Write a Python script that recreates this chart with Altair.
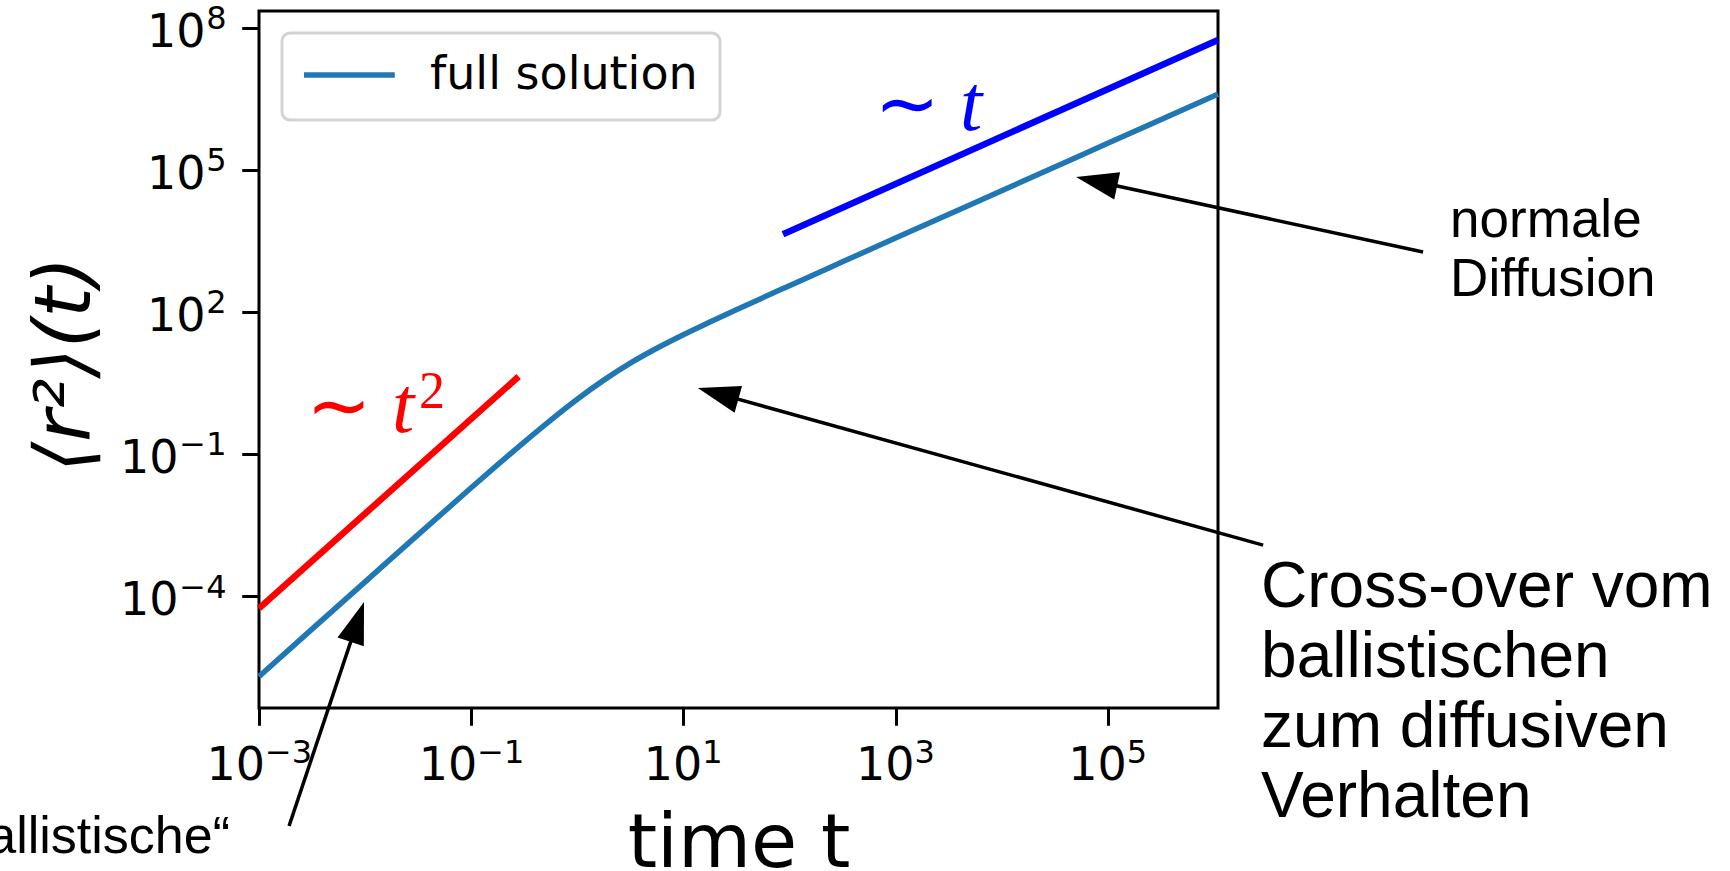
import math
import altair as alt
import pandas as pd

# ---------------- data ----------------
t_full = [1e-3, 3.16e-3, 1e-2, 3.16e-2, 0.1, 0.178, 0.316, 0.562, 1.0, 1.78, 3.16,
          5.62, 10, 17.8, 31.6, 100, 316, 1000, 1e4, 1e5, 1e6, 1.096e6]
msd_full = [2.0e-6, 2.0e-5, 1.99e-4, 1.98e-3, 0.0193, 0.0593, 0.178, 0.519, 1.43, 3.61, 8.24,
            17.0, 32.8, 60.8, 110.6, 357, 1135, 3597, 3.6e4, 3.6e5, 3.6e6, 3.94e6]

t_ball = [1e-3, 0.28]
msd_ball = [5.5e-5, 4.3]
t_diff = [87, 1.096e6]
msd_diff = [4350, 5.48e7]

x_ticks = [1e-3, 1e-1, 1e1, 1e3, 1e5]
y_ticks = [1e-4, 1e-1, 1e2, 1e5, 1e8]
x_domain = [1e-3, 1.096e6]
y_domain = [4.33e-7, 2.24e8]

series_name = "full solution"
x_title = "time t"
y_title = "⟨r²⟩(t)"

# annotations (anchors in data coordinates)
ann_texts = ["normale\nDiffusion", "Cross-over vom\nballistischen\nzum diffusiven\nVerhalten", "„ballistische“"]
ann_t = [1.69e8, 2.79e6, 5.33e-4]
ann_v = [3793, 5.86e-5, 3.76e-10]

arrow_tip_t = [5.04e4, 13.7, 9.77e-3]
arrow_tip_v = [7.0e4, 2.46, 7.5e-5]
arrow_tail_t = [9.4e7, 2.92e6, 1.92e-3]
arrow_tail_v = [1.83e3, 1.19e-3, 1.4e-9]

# slope labels: "~ t^2" (red) and "~ t" (blue)
sim_t = [5.68e-3, 1285]
sim_v = [0.290, 6.89e5]
var_t = [0.01795, 4055]
var_v = [0.290, 6.89e5]
exp_t = [0.0322]
exp_v = [0.931]
exp_text = ["2"]

# ---------------- geometry ----------------
W, H = 959, 697
PAD = {"left": 259, "top": 11, "right": 512, "bottom": 163}
lx0, lx1 = math.log10(x_domain[0]), math.log10(x_domain[1])
ly0, ly1 = math.log10(y_domain[0]), math.log10(y_domain[1])
XPD = W / (lx1 - lx0)
YPD = H / (ly1 - ly0)

def px(t):
    return (math.log10(t) - lx0) * XPD

def py(v):
    return (ly1 - math.log10(v)) * YPD

def inv_t(x):
    return 10 ** (lx0 + x / XPD)

def inv_v(y):
    return 10 ** (ly1 - y / YPD)

shaft_rows, head_rows = [], []
for i in range(3):
    x0, y0 = px(arrow_tail_t[i]), py(arrow_tail_v[i])
    x1, y1 = px(arrow_tip_t[i]), py(arrow_tip_v[i])
    dx, dy = x1 - x0, y1 - y0
    L = math.hypot(dx, dy)
    ux, uy = dx / L, dy / L
    ex, ey = x1 - 22 * ux, y1 - 22 * uy
    shaft_rows.append({"id": i, "o": 0, "t": arrow_tail_t[i], "v": arrow_tail_v[i]})
    shaft_rows.append({"id": i, "o": 1, "t": inv_t(ex), "v": inv_v(ey)})
    ang = math.degrees(math.atan2(dy, dx)) % 360
    head_rows.append({"t": arrow_tip_t[i], "v": arrow_tip_v[i], "ang": ang})

df_full = pd.DataFrame({"t": t_full, "v": msd_full, "series": series_name})
df_ball = pd.DataFrame({"t": t_ball, "v": msd_ball})
df_diff = pd.DataFrame({"t": t_diff, "v": msd_diff})
df_shaft = pd.DataFrame(shaft_rows)
df_head = pd.DataFrame(head_rows)

xs = alt.Scale(type="log", domain=x_domain, nice=False)
ys = alt.Scale(type="log", domain=y_domain, nice=False)

tick_common = dict(tickSize=17, tickWidth=3, tickColor="black", domain=False, grid=False,
                   labelColor="black", labelFont="DejaVu Sans", labelFlush=False,
                   labelOverlap=False, labelBaseline="alphabetic")

exp_expr = "(datum.value < 1 ? '\u2212' : '') + format(abs(round(log(datum.value) / LN10)), 'd')"

x_main = alt.Axis(values=x_ticks, orient="bottom", labelExpr="'10'", labelAlign="right",
                  labelOffset={"condition": {"test": "datum.value < 1", "value": 5.5}, "value": 18.5},
                  labelPadding=54, labelFontSize=46,
                  title=x_title, titleFont="DejaVu Sans", titleFontSize=75, titleFontWeight="normal",
                  titleColor="black", titleX=W / 2, titleY=158, titleAlign="center",
                  titleBaseline="alphabetic", **tick_common)
x_exp = alt.Axis(values=x_ticks, orient="bottom", labelExpr=exp_expr, labelAlign="left",
                 labelOffset={"condition": {"test": "datum.value < 1", "value": 5.5}, "value": 18.5},
                 labelPadding=37, labelFontSize=32, title=None, **tick_common)
y_main = alt.Axis(values=y_ticks, orient="left", labelExpr="'10'", labelAlign="right",
                  labelOffset=18.7,
                  labelPadding={"condition": {"test": "datum.value < 1", "value": 64}, "value": 37},
                  labelFontSize=46,
                  title=y_title, titleFont="DejaVu Sans", titleFontSize=78, titleFontWeight="normal",
                  titleFontStyle="italic", titleColor="black", titleAngle=270,
                  titleX=-193, titleY=353, titleAlign="center", titleBaseline="middle",
                  **tick_common)
y_exp = alt.Axis(values=y_ticks, orient="left", labelExpr=exp_expr, labelAlign="right",
                 labelOffset=1, labelPadding=16, labelFontSize=32, title=None, **tick_common)

full = alt.Chart(df_full).mark_line(strokeWidth=5.5, interpolate="monotone").encode(
    x=alt.X("t:Q", scale=xs, axis=x_main),
    y=alt.Y("v:Q", scale=ys, axis=y_main),
    color=alt.Color("series:N", scale=alt.Scale(domain=[series_name], range=["#1f77b4"]),
                    legend=alt.Legend(title=None, orient="none", legendX=23, legendY=22)),
)

ball = alt.Chart(df_ball).mark_line(strokeWidth=6.5, color="#ff0000").encode(
    x=alt.X("t:Q", scale=xs, axis=x_exp),
    y=alt.Y("v:Q", scale=ys, axis=y_exp),
)

diff = alt.Chart(df_diff).mark_line(strokeWidth=6.5, color="#0000ff").encode(
    x=alt.X("t:Q", scale=xs, axis=None),
    y=alt.Y("v:Q", scale=ys, axis=None),
)

def XN():
    return alt.X("t:Q", scale=xs, axis=None)

def YN():
    return alt.Y("v:Q", scale=ys, axis=None)

shafts = alt.Chart(df_shaft).mark_line(strokeWidth=3.5, color="black").encode(
    x=XN(), y=YN(), detail="id:N", order="o:Q")

heads = alt.Chart(df_head).mark_point(
    shape="M0,0L-1,-0.33L-1,0.33Z", filled=True, color="black", size=7056,
    opacity=1, strokeWidth=0).encode(
    x=XN(), y=YN(), angle=alt.Angle("ang:Q", scale=None))

df_ann0 = pd.DataFrame({"t": [ann_t[0]], "v": [ann_v[0]], "txt": [ann_texts[0]]})
df_ann1 = pd.DataFrame({"t": [ann_t[1]], "v": [ann_v[1]], "txt": [ann_texts[1]]})
df_ann2 = pd.DataFrame({"t": [ann_t[2]], "v": [ann_v[2]], "txt": [ann_texts[2]]})

ann0 = alt.Chart(df_ann0).mark_text(align="left", baseline="alphabetic", font="Liberation Sans",
                                    fontSize=53, lineHeight=59, lineBreak="\n", color="black").encode(
    x=XN(), y=YN(), text="txt:N")
ann1 = alt.Chart(df_ann1).mark_text(align="left", baseline="alphabetic", font="Liberation Sans",
                                    fontSize=64, lineHeight=70, lineBreak="\n", color="black").encode(
    x=XN(), y=YN(), text="txt:N")
ann2 = alt.Chart(df_ann2).mark_text(align="right", baseline="alphabetic", font="Liberation Sans",
                                    fontSize=52, color="black").encode(
    x=XN(), y=YN(), text="txt:N")

guide_colors = ["#ff0000", "#0000ff"]
math_layers = []
for i in range(2):
    d_sim = pd.DataFrame({"t": [sim_t[i]], "v": [sim_v[i]], "txt": ["\u223c"]})
    d_var = pd.DataFrame({"t": [var_t[i]], "v": [var_v[i]], "txt": ["t"]})
    math_layers.append(alt.Chart(d_sim).mark_text(
        align="center", baseline="alphabetic", font="DejaVu Sans", fontSize=78,
        color=guide_colors[i]).encode(x=XN(), y=YN(), text="txt:N"))
    math_layers.append(alt.Chart(d_var).mark_text(
        align="left", baseline="alphabetic", font="Liberation Serif", fontStyle="italic",
        fontSize=80, color=guide_colors[i]).encode(x=XN(), y=YN(), text="txt:N"))
d_exp = pd.DataFrame({"t": exp_t, "v": exp_v, "txt": exp_text})
math_layers.append(alt.Chart(d_exp).mark_text(
    align="left", baseline="alphabetic", font="Liberation Serif", fontSize=52,
    color=guide_colors[0]).encode(x=XN(), y=YN(), text="txt:N"))

chart = alt.layer(full, ball, diff, shafts, heads, ann0, ann1, ann2, *math_layers).resolve_scale(
    x="shared", y="shared"
).resolve_axis(
    x="independent", y="independent"
).properties(
    width=W, height=H, padding=PAD, autosize=alt.AutoSizeParams(type="none"),
    background="white",
).configure_view(
    stroke="black", strokeWidth=3
).configure_legend(
    padding=22, clipHeight=40, symbolType="stroke", symbolSize=12000, symbolStrokeWidth=5.5,
    symbolOffset=-22, labelOffset=32, labelFont="DejaVu Sans", labelFontSize=46,
    labelColor="black", strokeColor="#d3d3d3", strokeWidth=3, cornerRadius=8,
    fillColor="white", labelLimit=0,
)

chart.save("out.html", embed_options={"renderer": "svg", "actions": False})
